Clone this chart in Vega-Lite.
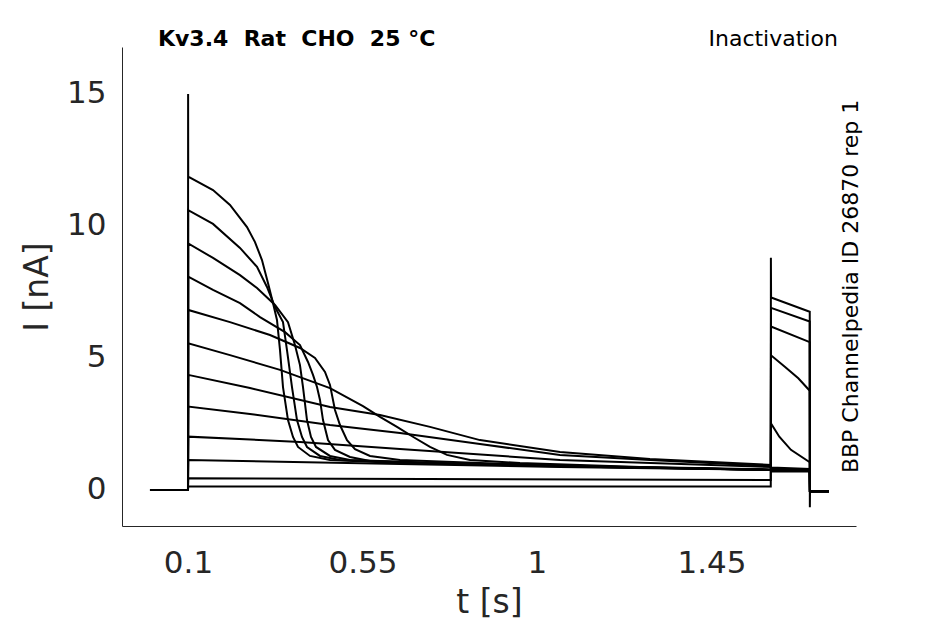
{
  "$schema": "https://vega.github.io/schema/vega-lite/v6.json",
  "width": 734,
  "height": 479,
  "autosize": {"type": "none"},
  "padding": {"left": 122, "top": 47, "right": 89, "bottom": 98},
  "background": "white",
  "config": {
    "view": {"stroke": null},
    "font": "DejaVu Sans",
    "axis": {
      "grid": false,
      "ticks": false,
      "domainColor": "#262626",
      "domainWidth": 1,
      "labelColor": "#262626",
      "titleColor": "#262626",
      "labelFont": "DejaVu Sans",
      "titleFont": "DejaVu Sans",
      "labelFontSize": 31,
      "titleFontSize": 33,
      "titleFontWeight": "normal"
    }
  },
  "encoding": {
    "x": {
      "field": "t",
      "type": "quantitative",
      "scale": {"domain": [-0.0702, 1.8228], "nice": false, "zero": false},
      "axis": {"title": "t [s]", "values": [0.1, 0.55, 1, 1.45], "labelExpr": "datum.value + ''", "labelPadding": 22, "titlePadding": 8}
    },
    "y": {
      "field": "i",
      "type": "quantitative",
      "scale": {"domain": [-1.364, 16.78], "nice": false, "zero": false},
      "axis": {"title": "I [nA]", "values": [0, 5, 10, 15], "labelExpr": "datum.value + ''", "labelPadding": 16, "titlePadding": 12}
    }
  },
  "layer": [
    {
      "data": {"values": [
        {"s": 1, "t": 0.002, "i": 0}, {"s": 1, "t": 0.1, "i": 0}, {"s": 1, "t": 0.1003, "i": 15}, {"s": 1, "t": 0.1006, "i": 11.87},
        {"s": 1, "t": 0.1645, "i": 11.36}, {"s": 1, "t": 0.2083, "i": 10.8}, {"s": 1, "t": 0.2522, "i": 9.96}, {"s": 1, "t": 0.2728, "i": 9.39},
        {"s": 1, "t": 0.2908, "i": 8.71}, {"s": 1, "t": 0.3063, "i": 7.84}, {"s": 1, "t": 0.3192, "i": 7.08}, {"s": 1, "t": 0.3295, "i": 6.44},
        {"s": 1, "t": 0.3373, "i": 5.3}, {"s": 1, "t": 0.345, "i": 3.9}, {"s": 1, "t": 0.3579, "i": 2.65}, {"s": 1, "t": 0.3708, "i": 2.01},
        {"s": 1, "t": 0.3837, "i": 1.63}, {"s": 1, "t": 0.4146, "i": 1.29}, {"s": 1, "t": 0.4662, "i": 1.14}, {"s": 1, "t": 0.6467, "i": 1.02},
        {"s": 1, "t": 1.0078, "i": 0.91}, {"s": 1, "t": 1.603, "i": 0.76}, {"s": 1, "t": 1.6036, "i": 0.7}, {"s": 1, "t": 1.7035, "i": 0.7},
        {"s": 1, "t": 1.704, "i": -0.05}, {"s": 1, "t": 1.753, "i": -0.05},

        {"s": 2, "t": 0.002, "i": 0}, {"s": 2, "t": 0.1, "i": 0}, {"s": 2, "t": 0.1006, "i": 10.6}, {"s": 2, "t": 0.1645, "i": 10.08},
        {"s": 2, "t": 0.2341, "i": 9.17}, {"s": 2, "t": 0.278, "i": 8.45}, {"s": 2, "t": 0.3037, "i": 7.69}, {"s": 2, "t": 0.3244, "i": 6.93},
        {"s": 2, "t": 0.345, "i": 6.36}, {"s": 2, "t": 0.3553, "i": 5.3}, {"s": 2, "t": 0.3682, "i": 3.9}, {"s": 2, "t": 0.3811, "i": 2.65},
        {"s": 2, "t": 0.394, "i": 2.01}, {"s": 2, "t": 0.4069, "i": 1.63}, {"s": 2, "t": 0.4404, "i": 1.29}, {"s": 2, "t": 0.492, "i": 1.14},
        {"s": 2, "t": 0.6983, "i": 1.02}, {"s": 2, "t": 1.0594, "i": 0.91}, {"s": 2, "t": 1.603, "i": 0.76}, {"s": 2, "t": 1.6036, "i": 0.72},
        {"s": 2, "t": 1.7035, "i": 0.72}, {"s": 2, "t": 1.704, "i": -0.05}, {"s": 2, "t": 1.753, "i": -0.05},

        {"s": 3, "t": 0.002, "i": 0}, {"s": 3, "t": 0.1, "i": 0}, {"s": 3, "t": 0.1006, "i": 9.34}, {"s": 3, "t": 0.1645, "i": 8.79},
        {"s": 3, "t": 0.2341, "i": 8.14}, {"s": 3, "t": 0.278, "i": 7.65}, {"s": 3, "t": 0.3244, "i": 7.01}, {"s": 3, "t": 0.3579, "i": 6.36},
        {"s": 3, "t": 0.3759, "i": 5.49}, {"s": 3, "t": 0.3888, "i": 4.73}, {"s": 3, "t": 0.3966, "i": 3.9}, {"s": 3, "t": 0.4069, "i": 2.65},
        {"s": 3, "t": 0.4172, "i": 2.01}, {"s": 3, "t": 0.4301, "i": 1.63}, {"s": 3, "t": 0.4662, "i": 1.29}, {"s": 3, "t": 0.5178, "i": 1.14},
        {"s": 3, "t": 0.7499, "i": 1.02}, {"s": 3, "t": 1.111, "i": 0.91}, {"s": 3, "t": 1.603, "i": 0.76}, {"s": 3, "t": 1.6036, "i": 0.74},
        {"s": 3, "t": 1.7035, "i": 0.74}, {"s": 3, "t": 1.704, "i": -0.05}, {"s": 3, "t": 1.753, "i": -0.05},

        {"s": 4, "t": 0.002, "i": 0}, {"s": 4, "t": 0.1, "i": 0}, {"s": 4, "t": 0.1006, "i": 8.08}, {"s": 4, "t": 0.1645, "i": 7.58},
        {"s": 4, "t": 0.2341, "i": 7.08}, {"s": 4, "t": 0.2857, "i": 6.55}, {"s": 4, "t": 0.3502, "i": 5.98}, {"s": 4, "t": 0.3888, "i": 5.49},
        {"s": 4, "t": 0.4095, "i": 4.85}, {"s": 4, "t": 0.4224, "i": 4.36}, {"s": 4, "t": 0.4327, "i": 3.9}, {"s": 4, "t": 0.4404, "i": 3.41},
        {"s": 4, "t": 0.4482, "i": 2.65}, {"s": 4, "t": 0.4611, "i": 1.89}, {"s": 4, "t": 0.4791, "i": 1.52}, {"s": 4, "t": 0.5178, "i": 1.25},
        {"s": 4, "t": 0.5694, "i": 1.1}, {"s": 4, "t": 0.8015, "i": 0.98}, {"s": 4, "t": 1.1626, "i": 0.87}, {"s": 4, "t": 1.603, "i": 0.76},
        {"s": 4, "t": 1.6036, "i": 0.75}, {"s": 4, "t": 1.7035, "i": 0.75}, {"s": 4, "t": 1.704, "i": -0.05}, {"s": 4, "t": 1.753, "i": -0.05},

        {"s": 5, "t": 0.002, "i": 0}, {"s": 5, "t": 0.1, "i": 0}, {"s": 5, "t": 0.1006, "i": 6.82}, {"s": 5, "t": 0.2083, "i": 6.36},
        {"s": 5, "t": 0.3115, "i": 5.87}, {"s": 5, "t": 0.3888, "i": 5.38}, {"s": 5, "t": 0.4275, "i": 5.0}, {"s": 5, "t": 0.4533, "i": 4.47},
        {"s": 5, "t": 0.4662, "i": 3.98}, {"s": 5, "t": 0.4791, "i": 3.03}, {"s": 5, "t": 0.492, "i": 2.46}, {"s": 5, "t": 0.5101, "i": 1.89},
        {"s": 5, "t": 0.5307, "i": 1.55}, {"s": 5, "t": 0.5694, "i": 1.29}, {"s": 5, "t": 0.6467, "i": 1.14}, {"s": 5, "t": 0.8531, "i": 1.02},
        {"s": 5, "t": 1.2142, "i": 0.87}, {"s": 5, "t": 1.603, "i": 0.76}, {"s": 5, "t": 1.6036, "i": 0.78}, {"s": 5, "t": 1.7035, "i": 0.76},
        {"s": 5, "t": 1.704, "i": -0.05}, {"s": 5, "t": 1.753, "i": -0.05},

        {"s": 6, "t": 0.002, "i": 0}, {"s": 6, "t": 0.1, "i": 0}, {"s": 6, "t": 0.1006, "i": 5.56}, {"s": 6, "t": 0.2083, "i": 5.11},
        {"s": 6, "t": 0.3373, "i": 4.55}, {"s": 6, "t": 0.4662, "i": 3.86}, {"s": 6, "t": 0.5513, "i": 3.18}, {"s": 6, "t": 0.5952, "i": 2.77},
        {"s": 6, "t": 0.639, "i": 2.39}, {"s": 6, "t": 0.6854, "i": 1.97}, {"s": 6, "t": 0.7241, "i": 1.63}, {"s": 6, "t": 0.7679, "i": 1.33},
        {"s": 6, "t": 0.8273, "i": 1.14}, {"s": 6, "t": 0.9562, "i": 1.02}, {"s": 6, "t": 1.2657, "i": 0.87}, {"s": 6, "t": 1.603, "i": 0.78},
        {"s": 6, "t": 1.6036, "i": 0.8}, {"s": 6, "t": 1.7035, "i": 0.78}, {"s": 6, "t": 1.704, "i": -0.05}, {"s": 6, "t": 1.753, "i": -0.05},

        {"s": 7, "t": 0.002, "i": 0}, {"s": 7, "t": 0.1, "i": 0}, {"s": 7, "t": 0.1006, "i": 4.36}, {"s": 7, "t": 0.2599, "i": 3.86},
        {"s": 7, "t": 0.4662, "i": 3.14}, {"s": 7, "t": 0.5952, "i": 2.84}, {"s": 7, "t": 0.7241, "i": 2.39}, {"s": 7, "t": 0.853, "i": 1.89},
        {"s": 7, "t": 1.0594, "i": 1.44}, {"s": 7, "t": 1.2914, "i": 1.17}, {"s": 7, "t": 1.603, "i": 0.95}, {"s": 7, "t": 1.6036, "i": 0.85},
        {"s": 7, "t": 1.7035, "i": 0.8}, {"s": 7, "t": 1.704, "i": -0.05}, {"s": 7, "t": 1.753, "i": -0.05},

        {"s": 8, "t": 0.002, "i": 0}, {"s": 8, "t": 0.1, "i": 0}, {"s": 8, "t": 0.1006, "i": 3.16}, {"s": 8, "t": 0.2599, "i": 2.88},
        {"s": 8, "t": 0.4662, "i": 2.46}, {"s": 8, "t": 0.6467, "i": 2.16}, {"s": 8, "t": 0.853, "i": 1.74}, {"s": 8, "t": 1.0594, "i": 1.33},
        {"s": 8, "t": 1.2914, "i": 1.14}, {"s": 8, "t": 1.603, "i": 0.91}, {"s": 8, "t": 1.6036, "i": 2.52}, {"s": 8, "t": 1.625, "i": 2.02},
        {"s": 8, "t": 1.655, "i": 1.52}, {"s": 8, "t": 1.7035, "i": 1.05}, {"s": 8, "t": 1.704, "i": -0.05}, {"s": 8, "t": 1.753, "i": -0.05},

        {"s": 9, "t": 0.002, "i": 0}, {"s": 9, "t": 0.1, "i": 0}, {"s": 9, "t": 0.1006, "i": 2.02}, {"s": 9, "t": 0.3888, "i": 1.82},
        {"s": 9, "t": 0.6467, "i": 1.55}, {"s": 9, "t": 1.0594, "i": 1.14}, {"s": 9, "t": 1.603, "i": 0.87}, {"s": 9, "t": 1.6036, "i": 5.1},
        {"s": 9, "t": 1.64, "i": 4.66}, {"s": 9, "t": 1.674, "i": 4.23}, {"s": 9, "t": 1.7035, "i": 3.76}, {"s": 9, "t": 1.704, "i": -0.05},
        {"s": 9, "t": 1.753, "i": -0.05},

        {"s": 10, "t": 0.002, "i": 0}, {"s": 10, "t": 0.1, "i": 0}, {"s": 10, "t": 0.1006, "i": 1.14}, {"s": 10, "t": 0.6467, "i": 0.98},
        {"s": 10, "t": 1.0594, "i": 0.87}, {"s": 10, "t": 1.603, "i": 0.76}, {"s": 10, "t": 1.6036, "i": 6.19}, {"s": 10, "t": 1.7035, "i": 5.6},
        {"s": 10, "t": 1.704, "i": -0.05}, {"s": 10, "t": 1.753, "i": -0.05},

        {"s": 11, "t": 0.002, "i": 0}, {"s": 11, "t": 0.1, "i": 0}, {"s": 11, "t": 0.1006, "i": 0.44}, {"s": 11, "t": 1.603, "i": 0.38},
        {"s": 11, "t": 1.6036, "i": 6.9}, {"s": 11, "t": 1.7035, "i": 6.38}, {"s": 11, "t": 1.704, "i": -0.05}, {"s": 11, "t": 1.753, "i": -0.05},

        {"s": 12, "t": 0.002, "i": 0}, {"s": 12, "t": 0.1, "i": 0}, {"s": 12, "t": 0.1006, "i": 0.13}, {"s": 12, "t": 1.603, "i": 0.13},
        {"s": 12, "t": 1.6033, "i": 8.8}, {"s": 12, "t": 1.6038, "i": 7.29}, {"s": 12, "t": 1.7035, "i": 6.75}, {"s": 12, "t": 1.7038, "i": -0.65},
        {"s": 12, "t": 1.7042, "i": -0.05}, {"s": 12, "t": 1.753, "i": -0.05}
      ]},
      "mark": {"type": "line", "color": "black", "strokeWidth": 2, "clip": true},
      "encoding": {
        "detail": {"field": "s", "type": "nominal"},
        "order": {"field": "t", "type": "quantitative"}
      }
    },
    {
      "data": {"values": [{"t": 0.0226, "i": 16.82, "label": "Kv3.4\u00a0\u00a0Rat\u00a0\u00a0CHO\u00a0\u00a025\u00a0°C"}]},
      "mark": {"type": "text", "align": "left", "baseline": "alphabetic", "fontSize": 22, "fontWeight": "bold", "color": "black", "font": "DejaVu Sans"},
      "encoding": {"text": {"field": "label", "type": "nominal"}}
    },
    {
      "data": {"values": [{"t": 1.776, "i": 16.82, "label": "Inactivation"}]},
      "mark": {"type": "text", "align": "right", "baseline": "alphabetic", "fontSize": 22, "color": "black", "font": "DejaVu Sans"},
      "encoding": {"text": {"field": "label", "type": "nominal"}}
    },
    {
      "data": {"values": [{"t": 1.81, "i": 7.71, "label": "BBP Channelpedia ID 26870 rep 1"}]},
      "mark": {"type": "text", "align": "center", "baseline": "middle", "angle": 270, "fontSize": 22, "color": "black", "font": "DejaVu Sans"},
      "encoding": {"text": {"field": "label", "type": "nominal"}}
    }
  ]
}
